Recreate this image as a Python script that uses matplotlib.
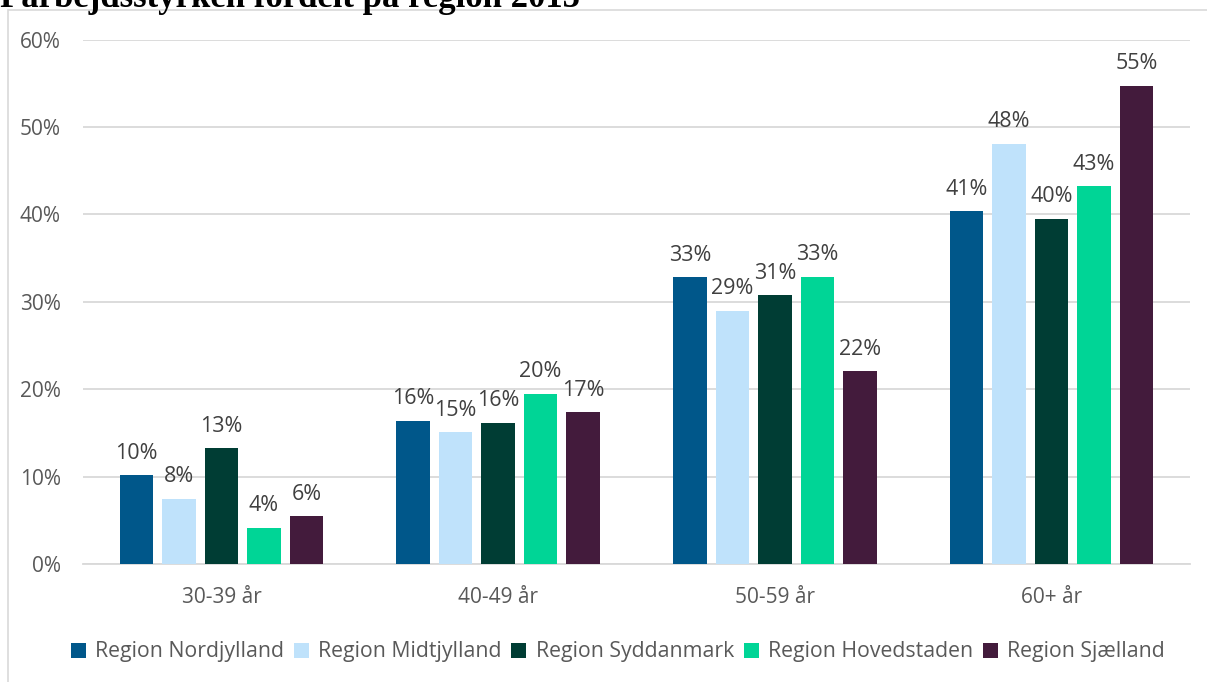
import numpy as np
import matplotlib
matplotlib.use("Agg")
import matplotlib.pyplot as plt
from matplotlib.patches import Rectangle
from matplotlib.ticker import PercentFormatter

plt.rcParams['font.family'] = ['Open Sans', 'DejaVu Sans']

# data (percent)
groups = ["30-39 år", "40-49 år", "50-59 år", "60+ år"]
regions = ["Region Nordjylland", "Region Midtjylland", "Region Syddanmark",
           "Region Hovedstaden", "Region Sjælland"]
nordjylland = [10.2, 16.4, 32.8, 40.4]
midtjylland = [7.5, 15.1, 29.0, 48.1]
syddanmark = [13.3, 16.2, 30.8, 39.5]
hovedstaden = [4.2, 19.5, 32.9, 43.2]
sjaelland = [5.5, 17.4, 22.1, 54.7]
labels = [["10%", "16%", "33%", "41%"],
          ["8%", "15%", "29%", "48%"],
          ["13%", "16%", "31%", "40%"],
          ["4%", "20%", "33%", "43%"],
          ["6%", "17%", "22%", "55%"]]

series = [nordjylland, midtjylland, syddanmark, hovedstaden, sjaelland]
colors = ["#00578a", "#bfe2fb", "#003d34", "#00d596", "#431b3c"]

W, H = 1207, 682
fig = plt.figure(figsize=(W / 100, H / 100), dpi=100)

# chart frame (cut off on the right and bottom)
fig.patches.append(Rectangle((8 / W, -0.1), 1.2, 1 - 10 / H + 0.1,
                             transform=fig.transFigure, fill=False,
                             edgecolor="#d9d9d9", linewidth=1.2))

# title, cut off at the top as in the source
fig.text(0 / W, 1 - 7 / H, "Farbejdsstyrken fordelt på region 2015",
         family="Liberation Serif", weight="bold", fontsize=25,
         ha="left", va="baseline")

ax = fig.add_axes([83 / W, 1 - 564.3 / H, (1190 - 83) / W, (564.3 - 39.5) / H])

x = np.arange(len(groups))
pitch = 0.1536
width = 0.1204
for i, vals in enumerate(series):
    pos = x + (i - 2) * pitch
    bars = ax.bar(pos, vals, width, color=colors[i], label=regions[i], zorder=3)
    for b, lab in zip(bars, labels[i]):
        ax.text(b.get_x() + b.get_width() / 2, b.get_height() + 1.3, lab,
                ha="center", va="bottom", fontsize=15.5, color="#404040")

ax.set_xlim(-0.5, 3.5)
ax.set_ylim(0, 60)
ax.set_yticks(range(0, 61, 10))
ax.yaxis.set_major_formatter(PercentFormatter(decimals=0))
ax.set_xticks(x)
ax.set_xticklabels(groups)
ax.grid(axis="y", color="#d9d9d9", linewidth=1.3, zorder=0)
for s in ["top", "right", "left"]:
    ax.spines[s].set_visible(False)
ax.spines["bottom"].set_color("#d9d9d9")
ax.spines["bottom"].set_linewidth(1.3)
ax.tick_params(length=0, labelsize=15, labelcolor="#595959")
ax.tick_params(axis="y", pad=16)
ax.tick_params(axis="x", pad=16)

fig.legend(loc="center", bbox_to_anchor=(618 / W, 1 - 652 / H), ncol=5,
           frameon=False, fontsize=15.3, labelcolor="#595959",
           handlelength=0.7, handleheight=0.7, handletextpad=0.45,
           columnspacing=0.45)

fig.savefig("out.png", dpi=100)
